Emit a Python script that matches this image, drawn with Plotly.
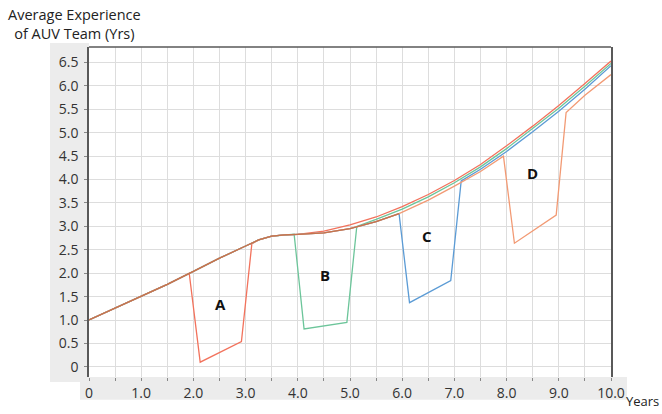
import plotly.graph_objects as go

# ---- data ----
a_x = [0, 0.5, 1, 1.5, 1.92, 2.13, 2.92, 3.12, 3.25, 3.5, 3.75, 4.0, 4.5, 5.0, 5.5, 6.0, 6.5, 7.0, 7.5, 8.0, 8.5, 9.0, 9.5, 10]
a_y = [1.0, 1.25, 1.5, 1.76, 2.0, 0.1, 0.54, 2.63, 2.71, 2.79, 2.82, 2.83, 2.90, 3.03, 3.20, 3.42, 3.68, 3.98, 4.32, 4.72, 5.14, 5.58, 6.05, 6.53]

b_x = [0, 0.5, 1, 1.5, 2, 2.5, 3, 3.25, 3.5, 3.75, 3.93, 4.12, 4.94, 5.13, 5.5, 6.0, 6.5, 7.0, 7.5, 8.0, 8.5, 9.0, 9.5, 10]
b_y = [1.0, 1.25, 1.5, 1.76, 2.04, 2.32, 2.58, 2.71, 2.79, 2.82, 2.83, 0.81, 0.95, 3.00, 3.15, 3.37, 3.63, 3.93, 4.27, 4.66, 5.08, 5.52, 5.99, 6.48]

c_x = [0, 0.5, 1, 1.5, 2, 2.5, 3, 3.25, 3.5, 3.75, 4.0, 4.5, 5.0, 5.5, 5.94, 6.14, 6.93, 7.13, 7.5, 8.0, 8.5, 9.0, 9.5, 10]
c_y = [1.0, 1.25, 1.5, 1.76, 2.04, 2.32, 2.58, 2.71, 2.79, 2.82, 2.83, 2.86, 2.95, 3.10, 3.27, 1.37, 1.84, 3.97, 4.22, 4.60, 5.02, 5.46, 5.93, 6.43]

d_x = [0, 0.5, 1, 1.5, 2, 2.5, 3, 3.25, 3.5, 3.75, 4.0, 4.5, 5.0, 5.5, 5.94, 6.5, 7.0, 7.5, 7.94, 8.15, 8.95, 9.14, 9.5, 10]
d_y = [1.0, 1.25, 1.5, 1.76, 2.04, 2.32, 2.58, 2.71, 2.79, 2.82, 2.83, 2.86, 2.95, 3.10, 3.27, 3.56, 3.86, 4.17, 4.50, 2.64, 3.24, 5.43, 5.80, 6.24]

# shared (overlapping) baseline portion
base_x = [0, 0.5, 1, 1.5, 2, 2.5, 3, 3.25, 3.5, 3.75, 4.0, 4.5, 5.0, 5.5, 5.94]
base_y = [1.0, 1.25, 1.5, 1.76, 2.04, 2.32, 2.58, 2.71, 2.79, 2.82, 2.83, 2.86, 2.95, 3.10, 3.27]

labels = ["A", "B", "C", "D"]
label_x = [2.51, 4.52, 6.48, 8.50]
label_y = [1.34, 1.96, 2.80, 4.15]

x_ticks = [0, 1, 2, 3, 4, 5, 6, 7, 8, 9, 10]
x_ticktext = ["0", "1.0", "2.0", "3.0", "4.0", "5.0", "6.0", "7.0", "8.0", "9.0", "10.0"]
y_ticks = [0, 0.5, 1, 1.5, 2, 2.5, 3, 3.5, 4, 4.5, 5, 5.5, 6, 6.5]
y_ticktext = ["0", "0.5", "1.0", "1.5", "2.0", "2.5", "3.0", "3.5", "4.0", "4.5", "5.0", "5.5", "6.0", "6.5"]

FONT = "Open Sans"

fig = go.Figure()
series = [
    (a_x, a_y, "#f2725c"),
    (b_x, b_y, "#6cc59a"),
    (c_x, c_y, "#5b9bd5"),
    (d_x, d_y, "#f29a74"),
    (base_x, base_y, "#c4734c"),
]
for xs, ys, col in series:
    fig.add_trace(go.Scatter(x=xs, y=ys, mode="lines",
                             line=dict(color=col, width=1.3),
                             hoverinfo="skip", showlegend=False))

for t, lx, ly in zip(labels, label_x, label_y):
    fig.add_annotation(x=lx, y=ly, text="<b>" + t + "</b>", showarrow=False,
                       font=dict(family=FONT, size=15, color="#111"))

fig.add_annotation(xref="paper", yref="paper", x=-0.0287, y=1.069,
                   text="Average Experience<br>of AUV Team (Yrs)", showarrow=False,
                   xanchor="center", yanchor="middle", align="center",
                   font=dict(family=FONT, size=14.5, color="#222"))
fig.add_annotation(xref="paper", yref="paper", x=1.025, y=-0.072,
                   text="Years", showarrow=False, xanchor="left", yanchor="middle",
                   font=dict(family=FONT, size=13, color="#222"))

# gray label panels
fig.add_shape(type="rect", xref="paper", yref="paper", x0=-0.0747, x1=0, y0=-0.015, y1=1.012,
              fillcolor="#ececec", line=dict(width=0), layer="below")
fig.add_shape(type="rect", xref="paper", yref="paper", x0=-0.0172, x1=1.0307, y0=-0.0689, y1=0,
              fillcolor="#ececec", line=dict(width=0), layer="below")
# top border
fig.add_shape(type="line", xref="paper", yref="paper", x0=0, x1=1, y0=1, y1=1,
              line=dict(color="#595959", width=1.5))

fig.update_xaxes(range=[0, 10], tickvals=x_ticks, ticktext=x_ticktext,
                 showgrid=True, gridcolor="#dddddd", gridwidth=1,
                 minor=dict(dtick=0.5, showgrid=True, gridcolor="#dddddd", ticks="outside",
                            ticklen=3, tickcolor="#888"),
                 ticks="outside", ticklen=3, tickcolor="#888",
                 zeroline=False, showline=False,
                 tickfont=dict(family=FONT, size=14, color="#333"))
fig.update_yaxes(range=[-0.217, 6.83], tickvals=y_ticks, ticktext=y_ticktext,
                 showgrid=True, gridcolor="#dddddd", gridwidth=1,
                 ticks="outside", ticklen=3, tickcolor="#888", ticklabelstandoff=3,
                 zeroline=False, showline=True, mirror=True, linecolor="#595959", linewidth=1.5,
                 tickfont=dict(family=FONT, size=14, color="#333"))

fig.update_layout(width=662, height=414,
                  margin=dict(l=89, r=51, t=47, b=33),
                  paper_bgcolor="white", plot_bgcolor="white",
                  showlegend=False)

# remove the default page margin so the figure sits at the window's top-left corner
fig.write_html("out.html",
               config={"displayModeBar": False},
               post_script="document.body.style.margin='0';document.body.style.overflow='hidden';")
